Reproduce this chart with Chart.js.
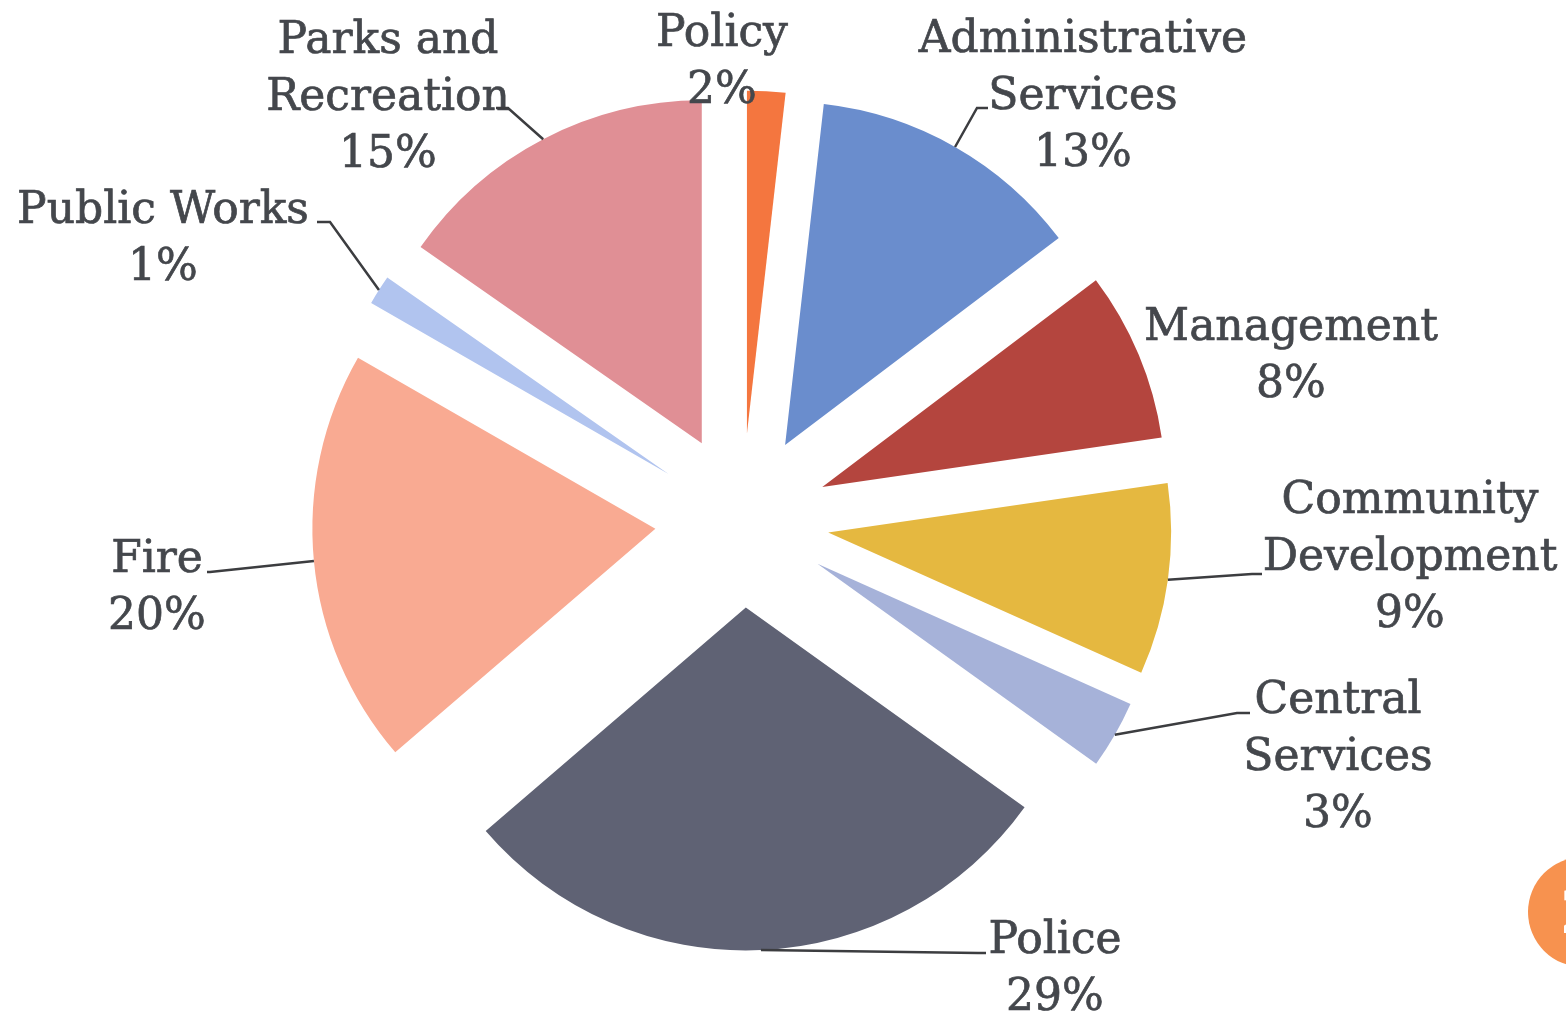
<!DOCTYPE html>
<html>
<head>
<meta charset="utf-8">
<script src="https://cdn.jsdelivr.net/npm/chart.js@4"></script>
<style>
  html, body { margin: 0; padding: 0; background: #ffffff; }
  #wrap { position: relative; width: 1566px; height: 1016px; overflow: hidden; }
  #badge { position: absolute; left: 1528px; top: 857px; width: 110px; height: 110px; border-radius: 50%;
           background: #f7924f; color: #fff; font: bold 60px "DejaVu Serif"; line-height: 110px; text-indent: 32px; }
</style>
</head>
<body>
<div id="wrap">
  <canvas id="c" width="1566" height="1016"></canvas>
  <div id="badge">2</div>
</div>
<script>
// ---- data ----
const categories = ["Policy", "Administrative Services", "Management", "Community Development",
  "Central Services", "Police", "Fire", "Public Works", "Parks and Recreation"];
const shares = [1.8, 12.9, 8.0, 9.0, 3.2, 28.8, 19.6, 1.4, 15.3];
const labelLines = [["Policy"], ["Administrative", "Services"], ["Management"], ["Community", "Development"],
  ["Central", "Services"], ["Police"], ["Fire"], ["Public Works"], ["Parks and", "Recreation"]];
const sliceColors = ["#f4763f", "#6a8dcd", "#b4453e", "#e5b840", "#a6b2d9", "#5f6274", "#f9aa92", "#b1c4ef", "#e08f95"];

// ---- label layout (text block centre x, first baseline y, optional leader: elbow, end) ----
const labelLayout = [
  { x: 722, y: 46, leader: null },
  { x: 1083, y: 52, leader: { elbow: [977, 108], end: [988, 108] } },
  { x: 1291, y: 340, leader: null },
  { x: 1410, y: 513, leader: { elbow: [1252, 574], end: [1262, 574] } },
  { x: 1338, y: 713, leader: { elbow: [1237, 713], end: [1250, 713] } },
  { x: 1055, y: 953, leader: { elbow: [978, 953], end: [986, 953] } },
  { x: 157, y: 572, leader: { elbow: [210, 572], end: [207, 572] } },
  { x: 163, y: 223, leader: { elbow: [330, 222], end: [317, 222] } },
  { x: 388, y: 53, leader: { elbow: [508, 108], end: [496, 108] } }
];

const EXPLODE = 87;
const FONT = '44px "DejaVu Serif"';
const LINE_H = 57;
const TEXT_COLOR = "#44474c";

const explodePlugin = {
  id: "explode",
  afterDatasetsUpdate(chart) {
    chart.getDatasetMeta(0).data.forEach(el => {
      const mid = (el.startAngle + el.endAngle) / 2;
      el.x += Math.cos(mid) * EXPLODE;
      el.y += Math.sin(mid) * EXPLODE;
    });
  }
};

const labelPlugin = {
  id: "sliceLabels",
  afterDatasetsDraw(chart) {
    const ctx = chart.ctx;
    const arcs = chart.getDatasetMeta(0).data;
    ctx.save();
    ctx.font = FONT;
    ctx.fillStyle = TEXT_COLOR;
    ctx.strokeStyle = TEXT_COLOR;
    ctx.textBaseline = "alphabetic";
    ctx.textAlign = "center";
    arcs.forEach((el, i) => {
      const lay = labelLayout[i];
      const lines = labelLines[i].concat([Math.round(shares[i]) + "%"]);
      lines.forEach((t, k) => {
        ctx.lineWidth = 0.7;
        ctx.fillText(t, lay.x, lay.y + k * LINE_H);
        ctx.strokeText(t, lay.x, lay.y + k * LINE_H);
      });
      if (lay.leader) {
        const mid = (el.startAngle + el.endAngle) / 2;
        const sx = el.x + Math.cos(mid) * el.outerRadius;
        const sy = el.y + Math.sin(mid) * el.outerRadius;
        ctx.beginPath();
        ctx.lineWidth = 2.5;
        ctx.strokeStyle = "#3c3d40";
        ctx.moveTo(sx, sy);
        ctx.lineTo(lay.leader.elbow[0], lay.leader.elbow[1]);
        ctx.lineTo(lay.leader.end[0], lay.leader.end[1]);
        ctx.stroke();
        ctx.strokeStyle = TEXT_COLOR;
      }
    });
    ctx.restore();
  }
};

new Chart(document.getElementById("c"), {
  type: "pie",
  data: {
    labels: categories,
    datasets: [{
      data: shares,
      backgroundColor: sliceColors,
      borderWidth: 0
    }]
  },
  options: {
    responsive: false,
    animation: false,
    events: [],
    radius: 343,
    layout: { padding: { left: 0, right: 82, top: 25, bottom: 0 } },
    plugins: { legend: { display: false }, tooltip: { enabled: false } }
  },
  plugins: [explodePlugin, labelPlugin]
});
</script>
</body>
</html>
